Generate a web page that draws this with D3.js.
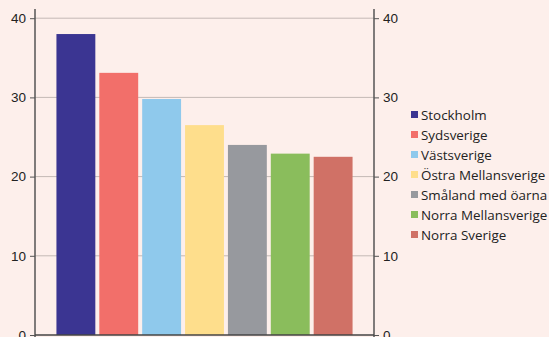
<!DOCTYPE html>
<html>
<head>
<meta charset="utf-8">
<script src="https://d3js.org/d3.v7.min.js"></script>
<style>
  body { margin: 0; background: #fdefeb; }
  svg { display: block; font-family: "Open Sans", sans-serif; }
  .axis text { font-size: 13.5px; fill: #222; }
  .axis path, .axis line { stroke: #555; }
</style>
</head>
<body>
<script>
// regions, share in percent
const regions = ["Stockholm", "Sydsverige", "Västsverige", "Östra Mellansverige",
                 "Småland med öarna", "Norra Mellansverige", "Norra Sverige"];
const values = [38.0, 33.1, 29.8, 26.5, 24.0, 22.9, 22.5];
const colors = ["#3b3592", "#f26f6a", "#8fc9ec", "#fede8c", "#97999e", "#8abd5c", "#d07166"];
const yTicks = [0, 10, 20, 30, 40];

const W = 549, H = 337;
const left = 35, right = 374, bottom = 335;

const svg = d3.select("body").append("svg")
  .attr("width", W)
  .attr("height", H);

const x = d3.scaleBand()
  .domain(regions)
  .range([left, right])
  .paddingInner(0.093)
  .paddingOuter(0.5);

const y = d3.scaleLinear()
  .domain([0, 40])
  .range([bottom, 18.2]);

// gridlines
svg.append("g")
  .selectAll("line")
  .data(yTicks.filter(d => d > 0))
  .join("line")
  .attr("x1", left).attr("x2", right)
  .attr("y1", d => y(d)).attr("y2", d => y(d))
  .attr("stroke", "#c4b9b6")
  .attr("stroke-width", 1);

// bars
svg.append("g")
  .selectAll("rect")
  .data(regions)
  .join("rect")
  .attr("x", d => x(d))
  .attr("width", x.bandwidth())
  .attr("y", (d, i) => y(values[i]))
  .attr("height", (d, i) => y(0) - y(values[i]))
  .attr("fill", (d, i) => colors[i]);

// axes
const yl = svg.append("g")
  .attr("class", "axis")
  .attr("transform", "translate(" + left + ",0)")
  .call(d3.axisLeft(y).tickValues(yTicks).tickSize(5).tickPadding(4));
const yr = svg.append("g")
  .attr("class", "axis")
  .attr("transform", "translate(" + right + ",0)")
  .call(d3.axisRight(y).tickValues(yTicks).tickSize(5).tickPadding(4));
[yl, yr].forEach(g => {
  g.select(".domain").attr("d", "M0,9V" + H).attr("stroke-width", 1.5);
});

// baseline
svg.append("line")
  .attr("x1", left).attr("x2", right)
  .attr("y1", bottom).attr("y2", bottom)
  .attr("stroke", "#444")
  .attr("stroke-width", 1.5);

// legend
const legend = svg.append("g")
  .selectAll("g")
  .data(regions)
  .join("g")
  .attr("transform", (d, i) => "translate(411," + (115 + i * 20) + ")");
legend.append("rect")
  .attr("x", 0).attr("y", -4)
  .attr("width", 7).attr("height", 7)
  .attr("fill", (d, i) => colors[i]);
legend.append("text")
  .attr("x", 10)
  .attr("dy", "0.35em")
  .style("font-size", "13.4px")
  .style("fill", "#222")
  .text(d => d);
</script>
</body>
</html>
